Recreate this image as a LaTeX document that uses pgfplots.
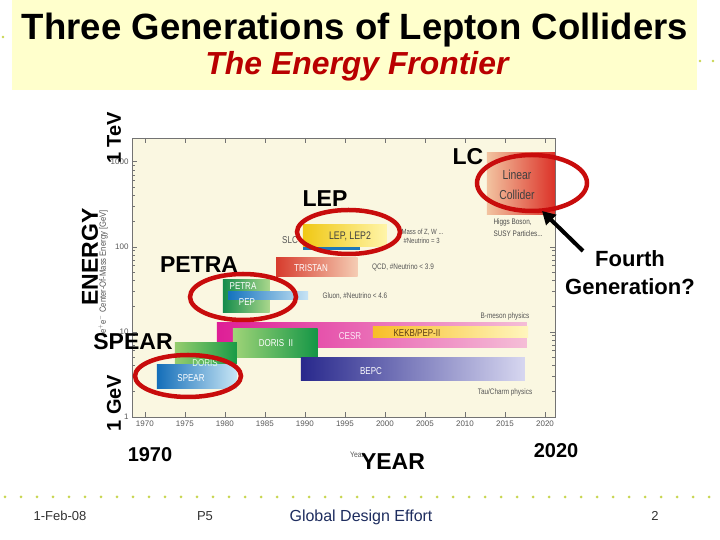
\documentclass[border=0pt]{standalone}
\usepackage{pgfplots}
\pgfplotsset{compat=1.18}
\usepackage{fontspec}
\setmainfont{Liberation Sans}
\usetikzlibrary{arrows.meta}
\definecolor{titlebg}{RGB}{255,255,204}
\definecolor{cream}{RGB}{250,247,225}
\definecolor{dotc}{RGB}{200,214,80}
\definecolor{ered}{RGB}{200,12,12}
\definecolor{navy}{RGB}{30,45,95}
\definecolor{ttl}{RGB}{185,0,0}
\definecolor{txtg}{RGB}{85,85,85}
\newcommand{\cnd}[3][0.8]{\scalebox{#1}[1]{\fontsize{#2}{#2}\selectfont #3}}
\begin{document}
\begin{tikzpicture}[x=1pt,y=1pt]
\useasboundingbox (0,0) rectangle (720,540);
\begin{scope}[shift={(0,540)}, y=-1pt]
\fill[white] (0,0) rectangle (720,540);
% decorative dots
\fill[dotc] (700,61) circle[radius=1.4pt];
\fill[dotc] (713,61) circle[radius=1.4pt];
\fill[dotc] (3,37) circle[radius=1.4pt];
\foreach \i in {0,...,45} \fill[dotc] (5+16*\i,497) circle[radius=1.5pt];
% title box
\fill[titlebg] (12,0) rectangle (697,90);
\node at (355,30) {\resizebox{666pt}{!}{\bfseries\fontsize{36}{36}\selectfont Three Generations of Lepton Colliders}};
\node[text=ttl] at (357,66) {\resizebox{303pt}{!}{\bfseries\itshape\fontsize{32}{32}\selectfont The Energy Frontier}};
\end{scope}

\begin{axis}[
  at={(132pt,123pt)}, anchor=south west,
  width=423pt, height=279pt, scale only axis,
  xmin=1968.4, xmax=2021.25, ymode=log, ymin=1, ymax=1900,
  axis background/.style={fill=cream},
  axis line style={draw=black!55, line width=0.8pt},
  xtick={1970,1975,...,2020},
  ytick={1,10,100,1000},
  log ticks with fixed point,
  tick style={black!55, line width=0.6pt},
  major tick length=5pt, minor tick length=3pt,
  ticklabel style={font=\fontsize{8}{8}\selectfont, text=black!65, /pgf/number format/assume math mode=true, /pgf/number format/1000 sep={}},
  bar/.style={draw=none, forget plot},
]
% CESR
\addplot[bar, left color={rgb,255:red,222;green,30;blue,150}, right color={rgb,255:red,245;green,190;blue,215}] coordinates {(1979,6.48) (2017.75,6.48) (2017.75,12.8) (1979,12.8)} -- cycle;
% KEKB/PEP-II
\addplot[bar, left color={rgb,255:red,248;green,190;blue,40}, right color={rgb,255:red,255;green,246;blue,190}] coordinates {(1998.5,8.5) (2017.9,8.5) (2017.9,11.5) (1998.5,11.5)} -- cycle;
% DORIS II
\addplot[bar, left color={rgb,255:red,160;green,212;blue,120}, right color={rgb,255:red,20;green,150;blue,70}] coordinates {(1981,4.94) (1991.6,4.94) (1991.6,11.1) (1981,11.1)} -- cycle;
% BEPC
\addplot[bar, left color={rgb,255:red,40;green,40;blue,140}, right color={rgb,255:red,215;green,215;blue,240}] coordinates {(1989.5,2.65) (2017.5,2.65) (2017.5,4.94) (1989.5,4.94)} -- cycle;
% DORIS
\addplot[bar, left color={rgb,255:red,150;green,205;blue,110}, right color={rgb,255:red,25;green,155;blue,70}] coordinates {(1973.75,2.96) (1981.5,2.96) (1981.5,7.42) (1973.75,7.42)} -- cycle;
% SPEAR
\addplot[bar, left color={rgb,255:red,20;green,110;blue,185}, right color={rgb,255:red,200;green,230;blue,245}] coordinates {(1971.5,2.19) (1981.5,2.19) (1981.5,4.09) (1971.5,4.09)} -- cycle;
% PETRA
\addplot[bar, left color={rgb,255:red,20;green,140;blue,75}, right color={rgb,255:red,170;green,215;blue,140}] coordinates {(1979.75,16.7) (1985.6,16.7) (1985.6,40.9) (1979.75,40.9)} -- cycle;
% PEP
\addplot[bar, left color={rgb,255:red,20;green,115;blue,190}, right color={rgb,255:red,200;green,228;blue,245}] coordinates {(1980.4,23.8) (1990.4,23.8) (1990.4,29.5) (1980.4,29.5)} -- cycle;
% TRISTAN
\addplot[bar, left color={rgb,255:red,215;green,60;blue,45}, right color={rgb,255:red,245;green,205;blue,180}] coordinates {(1986.4,44.4) (1996.6,44.4) (1996.6,74.3) (1986.4,74.3)} -- cycle;
% SLC
\addplot[bar, fill={rgb,255:red,30;green,120;blue,185}] coordinates {(1989.75,92.2) (1996.9,92.2) (1996.9,102.7) (1989.75,102.7)} -- cycle;
% LEP, LEP2
\addplot[bar, left color={rgb,255:red,240;green,200;blue,20}, right color={rgb,255:red,255;green,245;blue,170}] coordinates {(1989.75,100) (2000.25,100) (2000.25,181.5) (1989.75,181.5)} -- cycle;
% Linear Collider
\addplot[bar, left color={rgb,255:red,242;green,195;blue,160}, right color={rgb,255:red,220;green,50;blue,40}] coordinates {(2012.75,238) (2021.25,238) (2021.25,1277) (2012.75,1277)} -- cycle;
\end{axis}

\begin{scope}[shift={(0,540)}, y=-1pt]
% axis title of inner chart
\node[rotate=90, text=txtg] at (103,272) {\cnd[0.85]{9}{e$^+$e$^-$ Center-Of-Mass Energy [GeV]}};
\node[text=txtg] at (357,455) {\cnd[0.85]{8}{Year}};

% labels inside bars
\node[text=white] at (191,378) {\cnd{10}{SPEAR}};
\node[text=white!90!green] at (205,363) {\cnd{10}{DORIS}};
\node[text=white] at (276,343) {\cnd{10}{DORIS\ \ II}};
\node[text=white!92!magenta] at (350,336) {\cnd{10}{CESR}};
\node[text={rgb,255:red,90;green,60;blue,20}] at (417,333) {\cnd{10}{KEKB/PEP-II}};
\node[text=white] at (371,371) {\cnd{10}{BEPC}};
\node[text=white] at (243,286) {\cnd{10}{PETRA}};
\node[text=white] at (247,302) {\cnd{10}{PEP}};
\node[text=white] at (311,268) {\cnd{10}{TRISTAN}};
\node[text=txtg] at (290,240) {\cnd{10}{SLC}};
\node[text=black!75] at (350,236) {\cnd{11}{LEP, LEP2}};
\node[text=black!75] at (517,175) {\cnd{13}{Linear}};
\node[text=black!75] at (517,195) {\cnd{13}{Collider}};
% annotations
\node[text=txtg, anchor=west] at (398,232) {\cnd{7.5}{Mass of Z, W ...}};
\node[text=txtg, anchor=west] at (400,241) {\cnd{7.5}{\#Neutrino = 3}};
\node[text=txtg] at (403,267) {\cnd{8}{QCD, \#Neutrino < 3.9}};
\node[text=txtg] at (355,296) {\cnd{8}{Gluon, \#Neutrino < 4.6}};
\node[text=txtg] at (505,316) {\cnd{8}{B-meson physics}};
\node[text=txtg] at (505,392) {\cnd{8}{Tau/Charm physics}};
\node[text=black!70, anchor=west] at (490,222) {\cnd{8}{Higgs Boson,}};
\node[text=black!70, anchor=west] at (490,234) {\cnd{8}{SUSY Particles...}};

% red ellipses
\draw[ered, line width=4.5pt] (188,376) ellipse [x radius=53pt, y radius=21pt];
\draw[ered, line width=4.5pt] (243,297) ellipse [x radius=53pt, y radius=23pt];
\draw[ered, line width=4.5pt] (348.5,232) ellipse [x radius=51.5pt, y radius=22pt];
\draw[ered, line width=4.5pt] (532,183) ellipse [x radius=55pt, y radius=28pt];
% arrow
\draw[line width=4pt, -{Triangle[length=13pt,width=14pt]}] (583,251) -- (542,211);

% big overlay labels
\node[font=\bfseries\fontsize{23}{23}\selectfont] at (468,157) {LC};
\node[font=\bfseries\fontsize{23}{23}\selectfont] at (325,199) {LEP};
\node[font=\bfseries\fontsize{23}{23}\selectfont] at (199,265) {PETRA};
\node[font=\bfseries\fontsize{23}{23}\selectfont] at (133,342) {SPEAR};
\node[font=\bfseries\fontsize{22}{28}\selectfont, align=center] at (630,273) {Fourth\\Generation?};
\node[rotate=90, font=\bfseries\fontsize{23}{23}\selectfont] at (90,257) {ENERGY};
\node[rotate=90, font=\bfseries\fontsize{20}{20}\selectfont] at (114,138) {1 TeV};
\node[rotate=90, font=\bfseries\fontsize{20}{20}\selectfont] at (114,403) {1 GeV};
\node[font=\bfseries\fontsize{20}{20}\selectfont] at (150,455) {1970};
\node[font=\bfseries\fontsize{23}{23}\selectfont] at (393,462) {YEAR};
\node[font=\bfseries\fontsize{20}{20}\selectfont] at (556,451) {2020};

% footer
\node[text=black!80, font=\fontsize{13}{13}\selectfont] at (60,516) {1-Feb-08};
\node[text=black!80, font=\fontsize{13}{13}\selectfont] at (205,516) {P5};
\node[text=navy, font=\fontsize{16}{16}\selectfont] at (361,517) {Global Design Effort};
\node[text=black!80, font=\fontsize{13}{13}\selectfont] at (655,516) {2};
\end{scope}
\end{tikzpicture}
\end{document}
